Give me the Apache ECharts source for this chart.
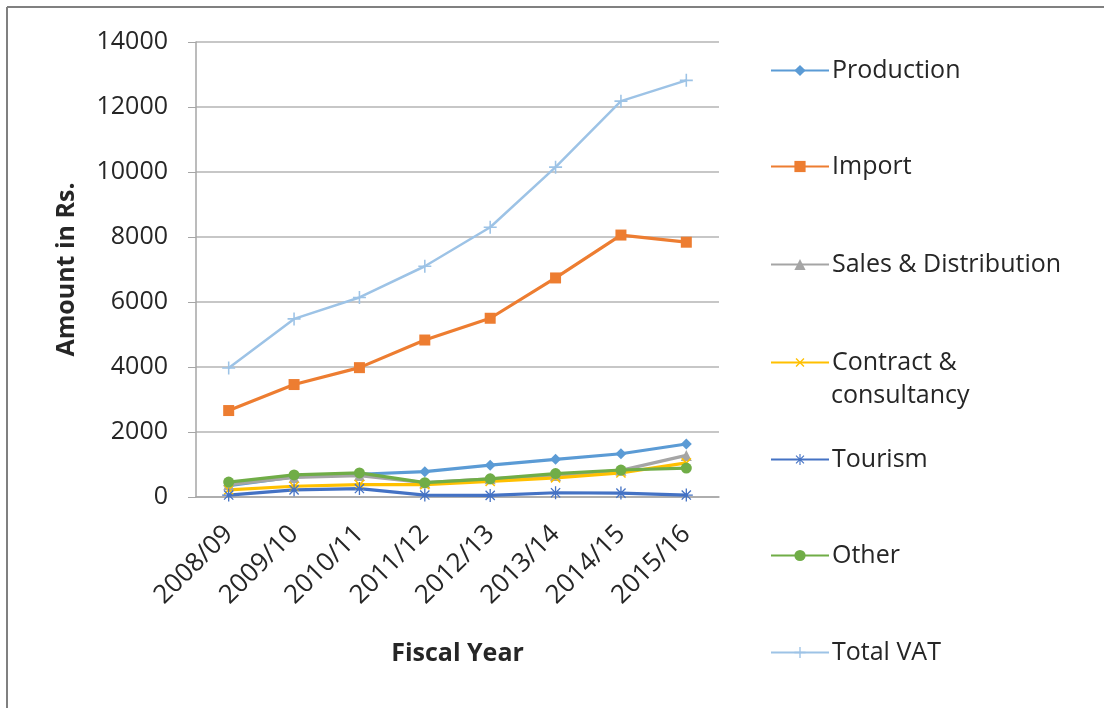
<!DOCTYPE html>
<html>
<head>
<meta charset="utf-8">
<script src="https://cdn.jsdelivr.net/npm/echarts@6/dist/echarts.min.js"></script>
<style>html,body{margin:0;padding:0;background:#fff}#c{width:1104px;height:708px}</style>
</head>
<body>
<div id="c"></div>
<script>
var categories = ['2008/09','2009/10','2010/11','2011/12','2012/13','2013/14','2014/15','2015/16'];
var production = [350, 620, 700, 780, 980, 1160, 1330, 1630];
var importVals = [2660, 3460, 3980, 4830, 5500, 6740, 8060, 7840];
var salesDist = [380, 600, 660, 440, 560, 660, 820, 1280];
var contract = [220, 330, 380, 380, 480, 590, 740, 1050];
var tourism = [60, 220, 260, 60, 50, 130, 120, 60];
var other = [460, 680, 740, 440, 560, 720, 830, 890];
var totalVat = [3970, 5480, 6140, 7100, 8300, 10150, 12180, 12820];
var yTicks = [0, 2000, 4000, 6000, 8000, 10000, 12000, 14000];

var PLUS = 'path://M4.4,0H5.6V4.4H10V5.6H5.6V10H4.4V5.6H0V4.4H4.4Z';
var STAR = 'path://M4.5,0H5.5V3.8L8.2,1.1L8.9,1.8L6.2,4.5H10V5.5H6.2L8.9,8.2L8.2,8.9L5.5,6.2V10H4.5V6.2L1.8,8.9L1.1,8.2L3.8,5.5H0V4.5H3.8L1.1,1.8L1.8,1.1L4.5,3.8Z';

var font = 'Open Sans';
var txt = '#262626';
function mk(name, data, color, symbol, size, rot) {
  return {name: name, type: 'line', data: data, symbol: symbol, symbolSize: size, symbolRotate: rot || 0,
    lineStyle: {color: color, width: 3.2}, itemStyle: {color: color}, z: 2};
}
var series = [
  mk('Production', production, '#5B9BD5', 'diamond', 11),
  mk('Import', importVals, '#ED7D31', 'rect', 11),
  mk('Sales & Distribution', salesDist, '#A5A5A5', 'triangle', 11),
  mk('Contract & consultancy', contract, '#FFC000', PLUS, 13, 45),
  mk('Tourism', tourism, '#4472C4', STAR, 13),
  mk('Other', other, '#70AD47', 'circle', 11),
  mk('Total VAT', totalVat, '#9DC3E6', PLUS, 13)
];
series[6].lineStyle.width = 2.5;

var legendTops = [68, 164, 262, 360, 457, 553, 650];
var legends = series.map(function (s, i) {
  return {
    data: [s.name], left: 765, top: legendTops[i] - 15, orient: 'vertical',
    itemWidth: 58, itemHeight: 14, itemGap: 0, selectedMode: false,
    formatter: i === 3 ? 'Contract &' : '{name}',
    textStyle: {fontFamily: font, fontSize: 25, color: txt, padding: [0, 0, 0, -2]}
  };
});

var chart = echarts.init(document.getElementById('c'));
chart.setOption({
  backgroundColor: '#fff',
  animation: false,
  grid: {left: 196, right: 385, top: 42, bottom: 211},
  legend: legends,
  graphic: [
    {type: 'line', shape: {x1: 7, y1: 7, x2: 1104, y2: 7}, style: {stroke: '#808080', lineWidth: 2}},
    {type: 'line', shape: {x1: 7, y1: 7, x2: 7, y2: 708}, style: {stroke: '#808080', lineWidth: 2}},
    {type: 'text', left: 831, top: 383, style: {text: 'consultancy', font: '25px "Open Sans"', fill: txt}}
  ],
  xAxis: {
    type: 'category', data: categories, boundaryGap: true,
    name: 'Fiscal Year', nameLocation: 'middle', nameGap: 144,
    nameTextStyle: {fontFamily: font, fontSize: 25, fontWeight: 'bold', color: txt},
    axisLine: {lineStyle: {color: '#A6A6A6', width: 1.5}},
    axisTick: {show: false},
    axisLabel: {rotate: 45, fontFamily: font, fontSize: 26, color: txt, margin: 33, interval: 0}
  },
  yAxis: {
    type: 'value', min: 0, max: 14000, interval: 2000,
    name: 'Amount in Rs.', nameLocation: 'middle', nameGap: 117, nameRotate: 90,
    nameTextStyle: {fontFamily: font, fontSize: 25, fontWeight: 'bold', color: txt},
    axisLine: {show: true, lineStyle: {color: '#A6A6A6', width: 1.5}},
    axisTick: {show: true, length: 8, lineStyle: {color: '#A6A6A6'}},
    splitLine: {lineStyle: {color: '#B4B4B4', width: 1.5}},
    axisLabel: {fontFamily: font, fontSize: 25, color: txt, margin: 28,
      formatter: function (v) { return yTicks.indexOf(v) >= 0 ? String(v) : ''; }}
  },
  series: series
});
</script>
</body>
</html>
